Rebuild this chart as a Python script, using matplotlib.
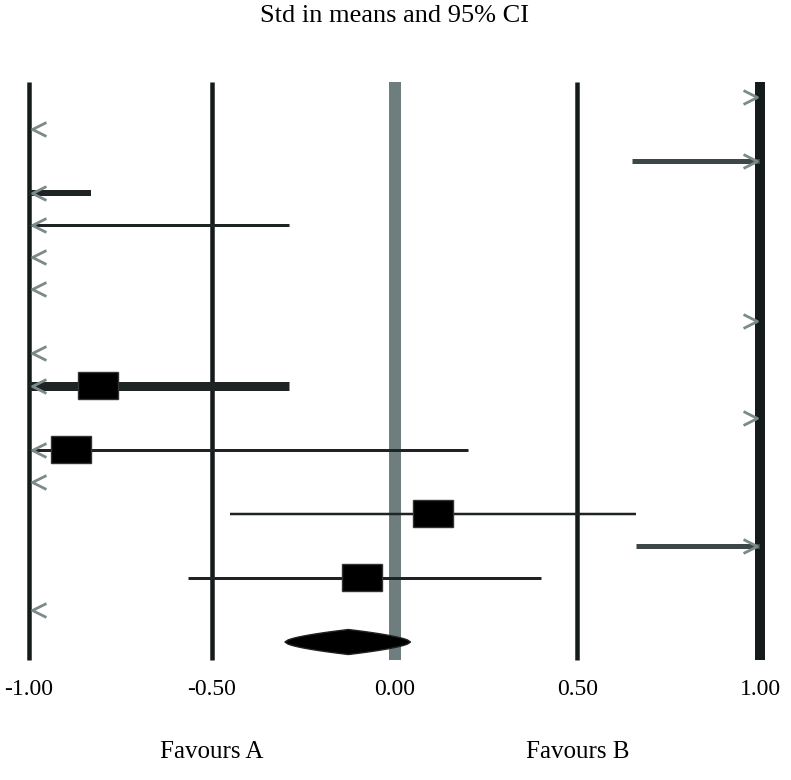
import numpy as np
import matplotlib
matplotlib.use('Agg')
import matplotlib.pyplot as plt
from matplotlib.patches import Rectangle, Polygon
from matplotlib.path import Path

plt.rcParams['font.family'] = ['Liberation Serif', 'DejaVu Serif']

# Study rows (top to bottom): estimate, lower and upper 95% CI
estimates = [1.80, -1.90, 1.40, -1.20, -1.30, -2.00, -1.70, 2.00, -1.60,
             -0.81, 1.70, -0.885, -2.10, 0.104, 1.30, -0.088, -1.80]
lower_ci = [1.30, -2.60, 0.65, -1.60, -2.30, -2.80, -2.20, 1.40, -2.20,
            -1.33, 1.20, -1.97, -3.00, -0.45, 0.66, -0.566, -2.50]
upper_ci = [2.40, -1.30, 2.10, -0.83, -0.29, -1.20, -1.20, 2.60, -1.10,
            -0.29, 2.20, 0.20, -1.30, 0.66, 1.95, 0.40, -1.10]

# Pooled estimate (diamond)
pooled_est = -0.126
pooled_lo = -0.30
pooled_hi = 0.044

tick_values = [-1.0, -0.5, 0.0, 0.5, 1.0]
tick_labels = ['-1.00', '-0.50', '0.00', '0.50', '1.00']

# line width of each CI line, in pixels
line_px = [3, 3, 5, 6, 3, 3, 3, 3, 3, 9, 3, 3, 3, 2.5, 5, 3, 3]
line_col = ['#1e2424'] * 17
line_col[2] = '#3d4747'
line_col[14] = '#3d4747'

px = 0.72  # points per pixel at dpi 100

fig = plt.figure(figsize=(7.91, 7.80), dpi=100)
# x: -1 at pixel 29, +1 at pixel 760; y: 82 .. 660
ax = fig.add_axes([29 / 791, 1 - 660 / 780, 731 / 791, 578 / 780])
row_px = 32.06
ax.set_xlim(-1, 1)
ax.set_ylim((660 - 97) / row_px, (82 - 97) / row_px)

# vertical reference lines
for xv in tick_values:
    if xv == 0:
        ax.axvline(xv, color='#6e7e7e', lw=12 * px, zorder=1, clip_on=False,
                   solid_capstyle='butt')
    elif xv == 1:
        ax.axvline(xv, color='#151a1a', lw=10 * px, zorder=1, clip_on=False,
                   solid_capstyle='butt')
    else:
        ax.axvline(xv, color='#151a1a', lw=4.5 * px, zorder=1, clip_on=False,
                   solid_capstyle='butt')

chevron_l = Path([(1, 1), (-1, 0), (1, -1)], [Path.MOVETO, Path.LINETO, Path.LINETO])
chevron_r = Path([(-1, 1), (1, 0), (-1, -1)], [Path.MOVETO, Path.LINETO, Path.LINETO])
box_w = 40 / 365.5
box_h = 27 / row_px
arrow_off = 10 / 365.5

for i in range(len(estimates)):
    lo, hi, est = lower_ci[i], upper_ci[i], estimates[i]
    a = max(lo, -1)
    b = min(hi, 1)
    if a < b:
        ax.plot([a, b], [i, i], color=line_col[i], lw=line_px[i] * px,
                solid_capstyle='butt', zorder=3)
    if lo < -1:
        ax.plot([-1 + arrow_off], [i], marker=chevron_l, ms=10, mfc='none',
                mec='#7d8a8a', mew=2.0, zorder=4, clip_on=False)
    if hi > 1:
        ax.plot([1 - arrow_off], [i], marker=chevron_r, ms=10, mfc='none',
                mec='#7d8a8a', mew=2.0, zorder=4, clip_on=False)
    if -1 <= est <= 1:
        ax.add_patch(Rectangle((est - box_w / 2, i - box_h / 2), box_w, box_h,
                               facecolor='black', edgecolor='#333', lw=1, zorder=5))

# pooled diamond, drawn with slightly bulging sides
yd = len(estimates)
dh = 12.5 / row_px
t = np.linspace(0, 1, 20)
bulge = t ** 0.6
top_l = np.column_stack([pooled_lo + (pooled_est - pooled_lo) * t, yd - dh * bulge])
top_r = np.column_stack([pooled_hi - (pooled_hi - pooled_est) * t, yd - dh * bulge])[::-1]
bot_r = np.column_stack([pooled_hi - (pooled_hi - pooled_est) * t, yd + dh * bulge])
bot_l = np.column_stack([pooled_lo + (pooled_est - pooled_lo) * t, yd + dh * bulge])[::-1]
ax.add_patch(Polygon(np.vstack([top_l, top_r, bot_r, bot_l]), closed=True,
                     facecolor='black', edgecolor='#222', lw=1, zorder=5))

for s in ax.spines.values():
    s.set_visible(False)
ax.set_yticks([])
ax.set_xticks(tick_values)
ax.set_xticklabels(tick_labels, fontsize=17)
ax.tick_params(axis='x', length=0, pad=14)

ax.text(-0.5, -0.16, 'Favours A', transform=ax.get_xaxis_transform(),
        ha='center', va='center', fontsize=18)
ax.text(0.5, -0.16, 'Favours B', transform=ax.get_xaxis_transform(),
        ha='center', va='center', fontsize=18)

fig.text(395 / 791, 1 - 16 / 780, 'Std in means and 95% CI', ha='center',
         va='center', fontsize=19)

fig.savefig('out.png', dpi=100)
